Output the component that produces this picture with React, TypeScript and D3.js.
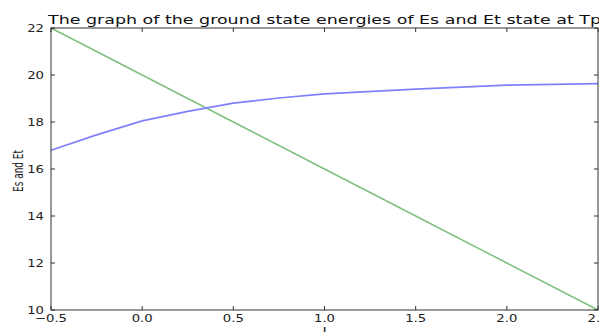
import React from "react";
import * as d3 from "d3";

const xsBlue = [-0.5, -0.25, 0.0, 0.25, 0.5, 0.75, 1.0, 1.5, 2.0, 2.5];
const esValues = [16.8, 17.45, 18.05, 18.45, 18.8, 19.02, 19.2, 19.4, 19.57, 19.63];
const xsGreen = [-0.5, 0.0, 0.5, 1.0, 1.5, 2.0, 2.5];
const etValues = [22, 20, 18, 16, 14, 12, 10];
const xTicks = [-0.5, 0.0, 0.5, 1.0, 1.5, 2.0, 2.5];
const yTicks = [10, 12, 14, 16, 18, 20, 22];
const titleText = "The graph of the ground state energies of Es and Et state at Tp";
const yLabelText = "Es and Et";
const xLabelText = "I";

const W = 599;
const H = 332;
const L = 51;
const R = 598;
const T = 28;
const B = 310;
const SX = 1.2;
const FONT = "DejaVu Sans, sans-serif";

export default function App() {
  const x = d3.scaleLinear().domain([-0.5, 2.5]).range([L, R]);
  const y = d3.scaleLinear().domain([10, 22]).range([B, T]);
  const line = d3
    .line<[number, number]>()
    .x((d) => x(d[0]))
    .y((d) => y(d[1]));
  const blue = line(xsBlue.map((v, i) => [v, esValues[i]] as [number, number])) || "";
  const green = line(xsGreen.map((v, i) => [v, etValues[i]] as [number, number])) || "";
  const tickLen = 4;
  const axisColor = "#333";
  const fmt = (v: number) => (v < 0 ? "\u2212" + Math.abs(v).toFixed(1) : v.toFixed(1));

  return (
    <div style={{ position: "absolute", left: 0, top: 0 }}>
      <svg width={W} height={H} style={{ display: "block", background: "#fff" }}>
        <rect x={0} y={0} width={W} height={H} fill="#fff" />
        <path d={green} fill="none" stroke="#7fbf7f" strokeWidth={1.5} />
        <path d={blue} fill="none" stroke="#8080ff" strokeWidth={1.7} />
        <rect x={L} y={T} width={R - L} height={B - T} fill="none" stroke={axisColor} strokeWidth={1} />
        {xTicks.map((t) => (
          <g key={"xt" + t}>
            <line x1={x(t)} x2={x(t)} y1={B} y2={B - tickLen} stroke={axisColor} />
            <line x1={x(t)} x2={x(t)} y1={T} y2={T + tickLen} stroke={axisColor} />
            <g transform={`translate(${x(t)},${322}) scale(${SX},1)`}>
              <text x={0} y={0} textAnchor="middle" fontFamily={FONT} fontSize={11} fill="#222">
                {fmt(t)}
              </text>
            </g>
          </g>
        ))}
        {yTicks.map((t) => (
          <g key={"yt" + t}>
            <line x1={L} x2={L + tickLen} y1={y(t)} y2={y(t)} stroke={axisColor} />
            <line x1={R} x2={R - tickLen} y1={y(t)} y2={y(t)} stroke={axisColor} />
            <g transform={`translate(${44},${y(t) + 4}) scale(${SX},1)`}>
              <text x={0} y={0} textAnchor="end" fontFamily={FONT} fontSize={11} fill="#222">
                {t}
              </text>
            </g>
          </g>
        ))}
        <text
          x={48}
          y={23.5}
          fontFamily={FONT}
          fontSize={12.7}
          fill="#111"
          textLength={553}
          lengthAdjust="spacingAndGlyphs"
        >
          {titleText}
        </text>
        <g transform={`translate(${23},${171}) rotate(-90)`}>
          <text
            x={-21}
            y={0}
            fontFamily={FONT}
            fontSize={13.5}
            fill="#222"
            textLength={42}
            lengthAdjust="spacingAndGlyphs"
          >
            {yLabelText}
          </text>
        </g>
        <g transform={`translate(${x(1.0)},${336}) scale(${SX},1)`}>
          <text x={0} y={0} textAnchor="middle" fontFamily={FONT} fontSize={12} fill="#222">
            {xLabelText}
          </text>
        </g>
      </svg>
    </div>
  );
}
